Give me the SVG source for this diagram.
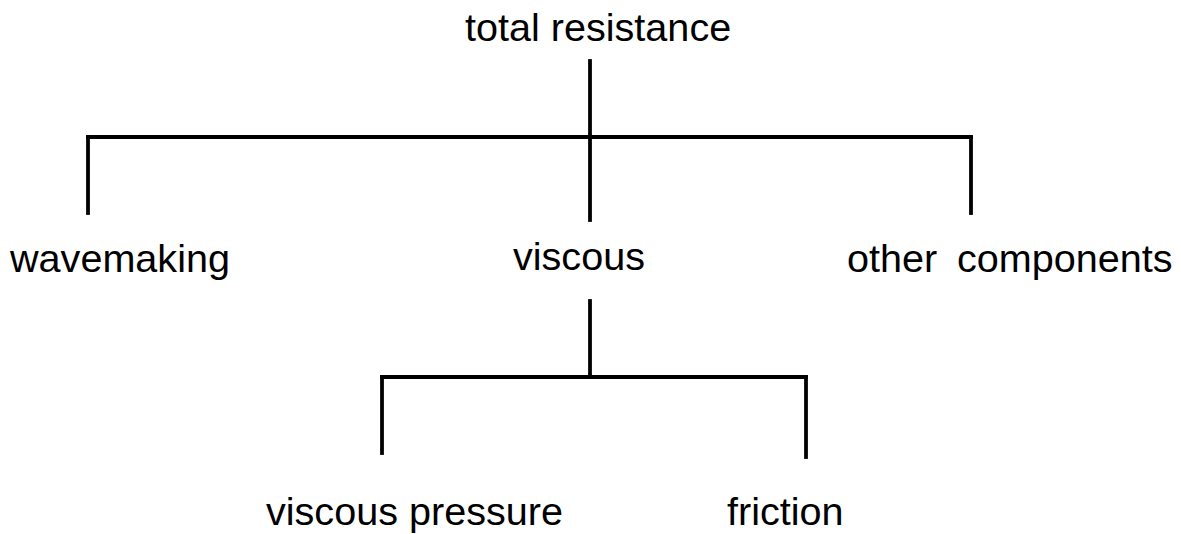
<svg xmlns="http://www.w3.org/2000/svg" width="1181" height="534" viewBox="0 0 1181 534">
<style>
text{font-family:"Liberation Sans",Arial,sans-serif;font-size:39.6px;fill:#000;white-space:pre}
.c line{stroke:#000;stroke-width:3.8;stroke-linecap:square}
</style>
<rect width="1181" height="534" fill="#fff"/>
<g class="c" id="connectors">
<line x1="590" y1="61" x2="590" y2="220"/>
<line x1="88" y1="137" x2="971" y2="137"/>
<line x1="88" y1="137" x2="88" y2="213"/>
<line x1="971" y1="137" x2="971" y2="213"/>
<line x1="590" y1="301" x2="590" y2="377"/>
<line x1="382" y1="377" x2="806" y2="377"/>
<line x1="382" y1="377" x2="382" y2="453"/>
<line x1="806" y1="377" x2="806" y2="457"/>
</g>
<g id="total"><text x="465" y="41">total resistance</text></g>
<g id="wavemaking"><text x="10" y="272">wavemaking</text></g>
<g id="viscous"><text x="513" y="270">viscous</text></g>
<g id="other"><text x="847" y="272" xml:space="preserve">other  <tspan x="957">components</tspan></text></g>
<g id="vpressure"><text x="266" y="525">viscous pressure</text></g>
<g id="friction"><text x="727" y="525">friction</text></g>
</svg>
